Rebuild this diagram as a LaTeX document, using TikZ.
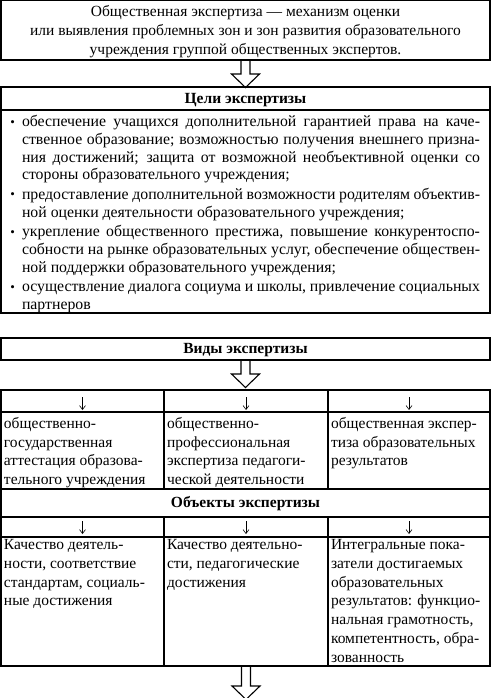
\documentclass[tikz,border=0pt]{standalone}
\usepackage{fontspec}
\setmainfont{Liberation Serif}
\usetikzlibrary{positioning,arrows.meta}

\newcommand{\jline}[1]{\hbox to 458pt{#1}}
\newcommand{\rline}[1]{\hbox{#1}}
\newcommand{\itemdot}{\llap{\raisebox{0.5pt}{\fontsize{13}{13}\selectfont •}\hspace{7pt}}}

\begin{document}
\begin{tikzpicture}[x=1pt, y=1pt, line width=1.1pt,
    every node/.style={inner sep=0pt, outer sep=0pt, font=\fontsize{15.5}{18.5}\selectfont},
    frame/.style={draw, anchor=north west, minimum width=#1}, frame/.default=489,
    head/.style={anchor=base, font=\fontsize{15.5}{18.5}\selectfont\bfseries},
    celltext/.style={anchor=base west},
    down/.style={-{Straight Barb[length=4pt, width=6pt]}, line width=0.6pt},
    pics/hollow/.style={code={\draw[line width=1.1pt] (-4.5,0) -- (-4.5,-#1) -- (-14,-#1) -- (0,-#1-13.5) -- (14,-#1) -- (4.5,-#1) -- (4.5,0);}}]

    \useasboundingbox (0,0) rectangle (491,-698);

    % definition
    \node[frame, minimum height=60] at (1,0) (def) {};
    \node[anchor=base, font=\fontsize{15.5}{19}\selectfont] at ([yshift=-17]def.north) (deftext) {\parbox[t]{480pt}{\centering Общественная экспертиза — механизм оценки\\или выявления проблемных зон и зон развития образовательного\\учреждения группой общественных экспертов.}};
    \pic at (def.south) {hollow=14};

    % goals
    \node[frame, minimum height=23] at (1,-87) (goalshead) {};
    \node[head] at ([yshift=-16]goalshead.north) {Цели экспертизы};
    \node[frame, minimum height=203] at (goalshead.south west) (goals) {};
    \node[celltext, font=\fontsize{15.8}{17.8}\selectfont] at ([shift={(21,-16.5)}]goals.north west) (goalslist) {\parbox[t]{458pt}{%
        \jline{\itemdot обеспечение учащихся дополнительной гарантией права на каче-}
        \jline{ственное образование; возможностью получения внешнего призна-}
        \jline{ния достижений; защита от возможной необъективной оценки со}
        \rline{стороны образовательного учреждения;}
        \vspace{1.7pt}
        \jline{\itemdot предоставление дополнительной возможности родителям объектив-}
        \rline{ной оценки деятельности образовательного учреждения;}
        \vspace{1.7pt}
        \jline{\itemdot укрепление общественного престижа, повышение конкурентоспо-}
        \jline{собности на рынке образовательных услуг, обеспечение обществен-}
        \rline{ной поддержки образовательного учреждения;}
        \vspace{1.7pt}
        \jline{\itemdot осуществление диалога социума и школы, привлечение социальных}
        \rline{партнеров}}};

    % types
    \node[frame, minimum height=22] at (1,-338) (types) {};
    \node[head] at ([yshift=-15.5]types.north) {Виды экспертизы};
    \pic at (types.south) {hollow=14};

    \node[frame=163, minimum height=22] at (1,-390) (a1) {};
    \node[frame=164, minimum height=22] at (a1.north east) (a2) {};
    \node[frame=162, minimum height=22] at (a2.north east) (a3) {};
    \foreach \c in {a1,a2,a3}
        \draw[down] ([yshift=-7]\c.north) -- ([yshift=2]\c.south);

    \node[frame=163, minimum height=77] at (a1.south west) (t1) {};
    \node[frame=164, minimum height=77] at (t1.north east) (t2) {};
    \node[frame=162, minimum height=77] at (t2.north east) (t3) {};
    \node[celltext] at ([shift={(3,-16.5)}]t1.north west) {\parbox[t]{200pt}{\raggedright общественно-\\государственная\\аттестация образова-\\тельного учреждения}};
    \node[celltext] at ([shift={(3,-16.5)}]t2.north west) {\parbox[t]{200pt}{\raggedright общественно-\\профессиональная\\экспертиза педагоги-\\ческой деятельности}};
    \node[celltext] at ([shift={(3,-16.5)}]t3.north west) {\parbox[t]{200pt}{\raggedright общественная экспер-\\тиза образовательных\\результатов}};

    % objects
    \node[frame, minimum height=28] at (t1.south west) (obj) {};
    \node[head] at ([yshift=-18.5]obj.north) {Объекты экспертизы};

    \node[frame=163, minimum height=20] at (obj.south west) (b1) {};
    \node[frame=164, minimum height=20] at (b1.north east) (b2) {};
    \node[frame=162, minimum height=20] at (b2.north east) (b3) {};
    \foreach \c in {b1,b2,b3}
        \draw[down] ([yshift=-4]\c.north) -- ([yshift=3]\c.south);

    \node[frame=163, minimum height=129] at (b1.south west) (q1) {};
    \node[frame=164, minimum height=129] at (q1.north east) (q2) {};
    \node[frame=162, minimum height=129] at (q2.north east) (q3) {};
    \node[celltext, font=\fontsize{15.5}{18.8}\selectfont] at ([shift={(3,-12.5)}]q1.north west) {\parbox[t]{200pt}{\raggedright Качество деятель-\\ности, соответствие\\стандартам, социаль-\\ные достижения}};
    \node[celltext, font=\fontsize{15.5}{18.8}\selectfont] at ([shift={(3,-12.5)}]q2.north west) {\parbox[t]{200pt}{\raggedright Качество деятельно-\\сти, педагогические\\достижения}};
    \node[celltext, font=\fontsize{15.5}{18.8}\selectfont] at ([shift={(3,-12.5)}]q3.north west) {\parbox[t]{200pt}{\raggedright Интегральные пока-\\затели достигаемых\\образовательных\\результатов: функцио-\\нальная грамотность,\\компетентность, обра-\\зованность}};
    \pic at (q2.south) {hollow=20};

\end{tikzpicture}
\end{document}
